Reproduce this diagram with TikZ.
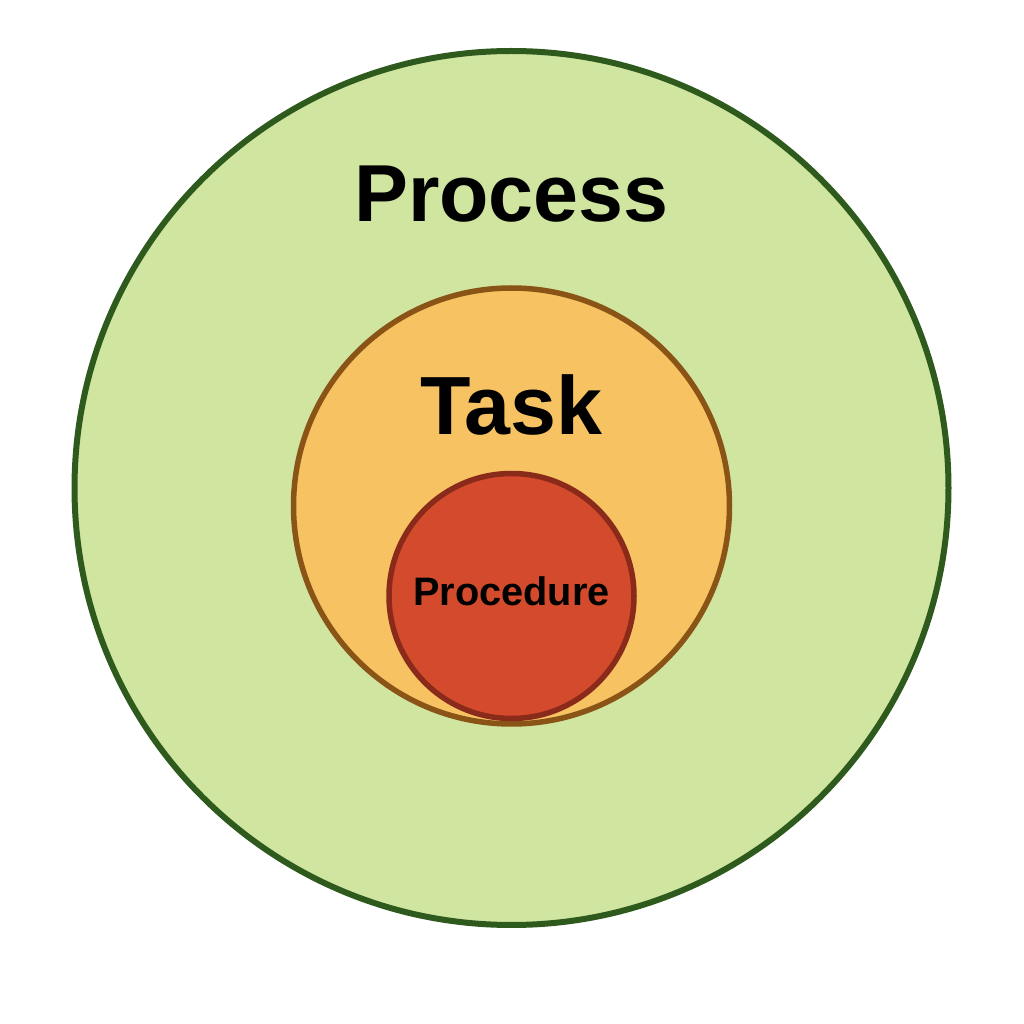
\documentclass[tikz,border=0pt]{standalone}
\usepackage{fontspec}
\setmainfont{Liberation Sans}
\usepackage{tikz}
\usepackage{xcolor}
\usetikzlibrary{shapes.geometric}
\definecolor{procfill}{HTML}{CFE5A0}
\definecolor{procline}{HTML}{2F5A1E}
\definecolor{taskfill}{HTML}{F6C262}
\definecolor{taskline}{HTML}{8A5416}
\definecolor{procdfill}{HTML}{D34B2C}
\definecolor{procdline}{HTML}{8A2A1A}
\tikzstyle{ring}  = [circle, line width=0.55mm, inner sep=0pt, outer sep=0pt]
\tikzstyle{title} = [text centered, font=\bfseries, inner sep=0pt]

\begin{document}
\begin{tikzpicture}
    \useasboundingbox (0,0) rectangle (10.24,10.24);
    \node (process) [ring, draw=procline, fill=procfill, minimum size=8.74cm, line width=0.6mm] at (5.115,5.36) {};
    \node (task) [ring, draw=taskline, fill=taskfill, minimum size=4.36cm] at (5.115,5.18) {};
    \node (procedure) [ring, draw=procdline, fill=procdfill, minimum size=2.45cm] at (5.115,4.28) {};

    \node (processlbl) [title, font=\fontsize{23}{26}\selectfont\bfseries] at (5.115,8.30) {Process};
    \node (tasklbl) [title, font=\fontsize{23.5}{26}\selectfont\bfseries] at (5.115,6.19) {Task};
    \node (procedurelbl) [title, font=\fontsize{11.3}{13}\selectfont\bfseries] at (5.115,4.33) {Procedure};
\end{tikzpicture}
\end{document}
